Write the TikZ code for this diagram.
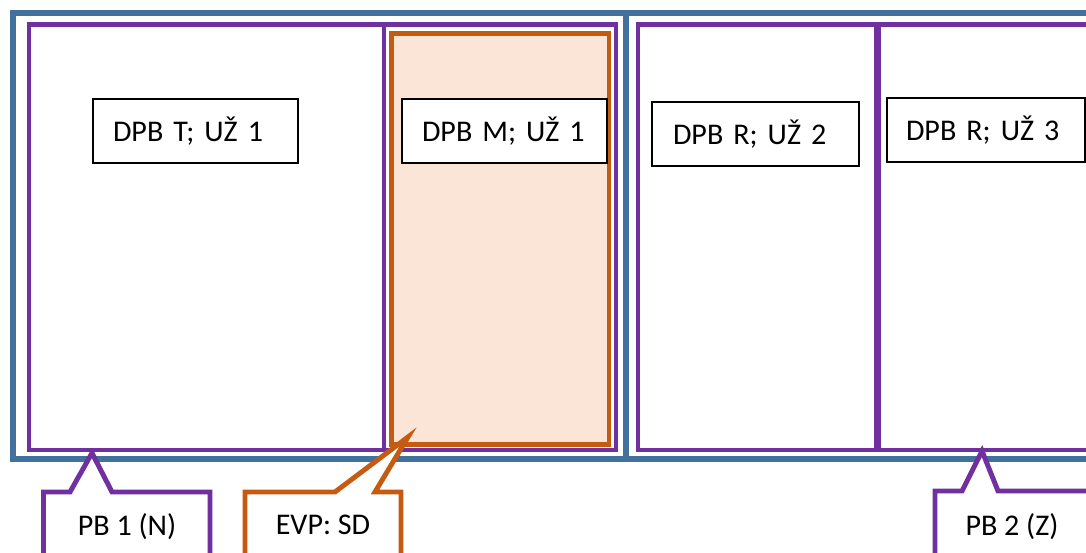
\documentclass[tikz,border=0pt]{standalone}
\usepackage{fontspec}
\setmainfont{Carlito}
\usetikzlibrary{positioning}

\definecolor{zone}{HTML}{41719C}
\definecolor{pb}{HTML}{7030A0}
\definecolor{evp}{HTML}{C55A11}
\definecolor{evpfill}{HTML}{FBE5D6}

\begin{document}
\begin{tikzpicture}[x=0.02cm,y=-0.02cm,
	zone/.style={draw=zone,line width=3.4pt},
	pb/.style={draw=pb,line width=2.8pt},
	evp/.style={draw=evp,line width=2.8pt},
	dpb/.style={draw,fill=white,line width=0.8pt,minimum height=1.28cm,text width=3.3cm,align=left,inner xsep=0.4cm,font=\fontsize{17.1}{21}\selectfont},
	lbl/.style={font=\fontsize{17.1}{21}\selectfont}]
	\useasboundingbox (0,0) rectangle (1086,553);

	% zones
	\draw[zone] (13,13) rectangle (626,459);
	\draw[zone] (626,13) rectangle (1120,459);

	% fire sections
	\draw[pb] (29,24.5) rectangle (384,450);
	\draw[pb] (384,24.5) rectangle (616,450);
	\draw[pb] (638,24.5) rectangle (876,450);
	\draw[pb] (879,24.5) rectangle (1120,450);
	\draw[evp,fill=evpfill] (391.5,33.5) rectangle (609,444.5);

	\node[dpb] (t) at (195.5,131) {DPB T; UŽ 1};
	\node[dpb] (m) at (504.5,131) {DPB M; UŽ 1};
	\node[dpb,inner xsep=0.42cm] (r2) at (755.5,134) {DPB R; UŽ 2};
	\node[dpb,text width=3.2cm,inner xsep=0.38cm] (r3) at (986,130) {DPB R; UŽ 3};

	% callouts
	\coordinate (1) at (92,453);
	\coordinate (2) at (408,437);
	\coordinate (3) at (982,451);

	\draw[pb,fill=white] (43.5,570) -- (43.5,492) -- (70,492) -- (1) -- (112,492) -- (210,492) -- (210,570);
	\node[lbl] (pb1) at (127,527) {PB 1 (N)};
	\draw[evp,fill=white] (245,570) -- (245,492) -- (335,492) -- (2) -- (375,492) -- (401,492) -- (401,570);
	\node[lbl] (sd) at (323,525) {EVP: SD};
	\draw[pb,fill=white] (935,570) -- (935,491) -- (962,491) -- (3) -- (998,491) -- (1120,491) -- (1120,570);
	\node[lbl] (pb2) at (1012,527) {PB 2 (Z)};
\end{tikzpicture}
\end{document}
